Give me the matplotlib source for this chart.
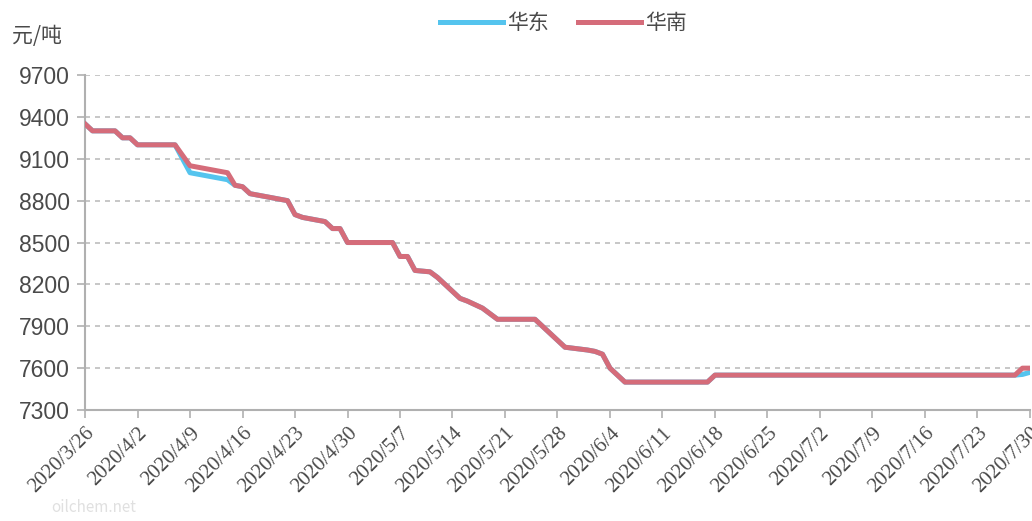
import matplotlib
matplotlib.use("Agg")
import matplotlib.pyplot as plt
import matplotlib.dates as mdates
import pandas as pd

# ---- data ----
dates = ["2020-03-26", "2020-03-27", "2020-03-30", "2020-03-31", "2020-04-01",
         "2020-04-02", "2020-04-07", "2020-04-09", "2020-04-10", "2020-04-13",
         "2020-04-14", "2020-04-15", "2020-04-16", "2020-04-17", "2020-04-20",
         "2020-04-22", "2020-04-23", "2020-04-24", "2020-04-27", "2020-04-28",
         "2020-04-29", "2020-04-30", "2020-05-06", "2020-05-07", "2020-05-08",
         "2020-05-09", "2020-05-11", "2020-05-12", "2020-05-13", "2020-05-14",
         "2020-05-15", "2020-05-16", "2020-05-18", "2020-05-19", "2020-05-20",
         "2020-05-25", "2020-05-26", "2020-05-27", "2020-05-28", "2020-05-29",
         "2020-06-01", "2020-06-02", "2020-06-03", "2020-06-04", "2020-06-05",
         "2020-06-06", "2020-06-17", "2020-06-18", "2020-07-28", "2020-07-29",
         "2020-07-30"]
huadong = [9350, 9300, 9300, 9250, 9250,
           9200, 9200, 9000, 8990, 8960,
           8950, 8910, 8900, 8850, 8820,
           8800, 8700, 8680, 8650, 8600,
           8600, 8500, 8500, 8400, 8400,
           8300, 8290, 8250, 8200, 8150,
           8100, 8080, 8030, 7990, 7950,
           7950, 7900, 7850, 7800, 7750,
           7730, 7720, 7700, 7600, 7550,
           7500, 7500, 7550, 7550, 7555,
           7570]
huanan = [9350, 9300, 9300, 9250, 9250,
          9200, 9200, 9050, 9040, 9010,
          9000, 8910, 8900, 8850, 8820,
          8800, 8700, 8680, 8650, 8600,
          8600, 8500, 8500, 8400, 8400,
          8300, 8290, 8250, 8200, 8150,
          8100, 8080, 8030, 7990, 7950,
          7950, 7900, 7850, 7800, 7750,
          7730, 7720, 7700, 7600, 7550,
          7500, 7500, 7550, 7550, 7600,
          7600]
series_names = ["华东", "华南"]
y_ticks = [7300, 7600, 7900, 8200, 8500, 8800, 9100, 9400, 9700]
x_tick_dates = pd.date_range("2020-03-26", "2020-07-30", freq="7D")
unit_label = "元/吨"

plt.rcParams['font.family'] = ['Noto Sans CJK SC', 'DejaVu Sans']

x = pd.to_datetime(dates)

fig = plt.figure(figsize=(10.32, 5.21), dpi=100)
ax = fig.add_axes([0.0824, 0.213, 0.9156, 0.643])

c_blue = "#55c4ee"
c_red = "#d56c7a"
ax.plot(x, huadong, color=c_blue, lw=3.6, solid_joinstyle="round", label=series_names[0], zorder=3)
ax.plot(x, huanan, color=c_red, lw=3.6, solid_joinstyle="round", label=series_names[1], zorder=4)

ax.set_xlim(x_tick_dates[0], x_tick_dates[-1])
ax.set_ylim(7300, 9700)
ax.set_yticks(y_ticks)
ax.set_xticks(x_tick_dates)

ax.set_yticklabels([str(v) for v in y_ticks], fontsize=16.5, color="#4a4a4a",
                   family=["Liberation Sans"])
ax.set_xticklabels([f"{d.year}/{d.month}/{d.day}" for d in x_tick_dates],
                   rotation=45, ha="right", rotation_mode="anchor",
                   fontsize=15, color="#4a4a4a", family=["Liberation Serif"])

ax.grid(axis="y", color="#bdbdbd", linestyle=(0, (3, 3)), lw=1.2)
ax.set_axisbelow(True)
for s in ["top", "right"]:
    ax.spines[s].set_visible(False)
for s in ["left", "bottom"]:
    ax.spines[s].set_color("#b0b0b0")
    ax.spines[s].set_linewidth(1.5)
ax.tick_params(axis="both", color="#b0b0b0", width=1.2, length=6)
ax.tick_params(axis="y", pad=5)
ax.tick_params(axis="x", pad=4)

fig.text(0.012, 0.93, unit_label, fontsize=15, color="#4a4a4a", va="center", ha="left")

leg = fig.legend(loc="center", bbox_to_anchor=(0.546, 0.955), ncol=2, frameon=False,
                 fontsize=15, handlelength=3.0, columnspacing=1.4, handletextpad=0.2)
for t in leg.get_texts():
    t.set_color("#4a4a4a")

fig.text(0.05, 0.01, "oilchem.net", fontsize=11, color="#e0e0e0", ha="left", va="bottom")

fig.savefig("out.png", dpi=100)
